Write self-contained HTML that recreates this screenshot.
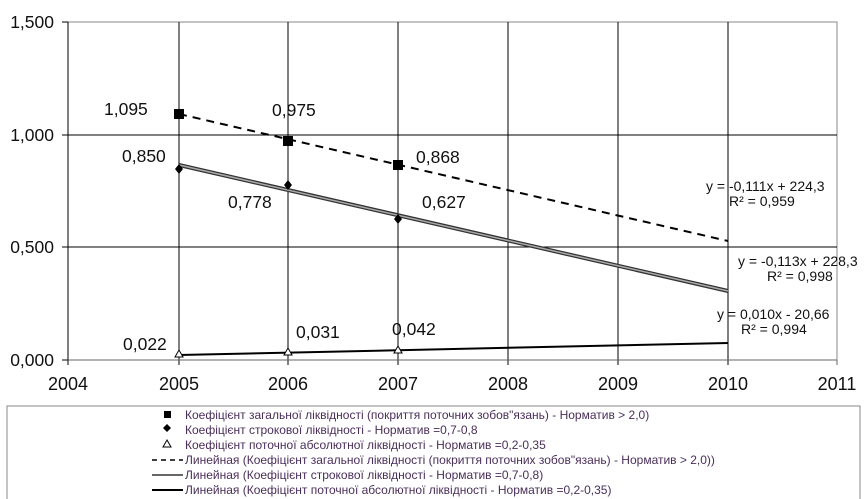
<!DOCTYPE html>
<html><head><meta charset="utf-8"><style>
body{margin:0;background:#fff;width:866px;height:499px;overflow:hidden;font-family:"Liberation Sans",sans-serif}
svg{position:absolute;left:0;top:0}
</style></head><body>
<svg width="866" height="499" viewBox="0 0 866 499" font-family="Liberation Sans, sans-serif">
<rect x="68" y="22" width="769" height="338" fill="#fff" stroke="#888" stroke-width="1"/>
<g stroke="#000" stroke-width="1">
<line x1="68" y1="135" x2="837" y2="135"/>
<line x1="68" y1="247" x2="837" y2="247"/>
<line x1="179" y1="22" x2="179" y2="365"/>
<line x1="288" y1="22" x2="288" y2="365"/>
<line x1="398" y1="22" x2="398" y2="365"/>
<line x1="508" y1="22" x2="508" y2="365"/>
<line x1="618" y1="22" x2="618" y2="365"/>
<line x1="728" y1="22" x2="728" y2="365"/>
<line x1="68" y1="22" x2="68" y2="365"/>
<line x1="62" y1="22" x2="68" y2="22"/><line x1="62" y1="135" x2="68" y2="135"/><line x1="62" y1="247" x2="68" y2="247"/><line x1="62" y1="360" x2="68" y2="360"/>
</g>
<line x1="68" y1="360" x2="837" y2="360" stroke="#666"/>
<line x1="837" y1="360" x2="837" y2="365" stroke="#666"/>
<g font-size="17.5" text-anchor="end" fill="#111">
<text x="54" y="28">1,500</text><text x="54" y="141">1,000</text><text x="54" y="253">0,500</text><text x="54" y="366">0,000</text>
</g>
<g font-size="18" text-anchor="middle" fill="#111">
<text x="68" y="390">2004</text><text x="179" y="390">2005</text><text x="288" y="390">2006</text><text x="398" y="390">2007</text><text x="508" y="390">2008</text><text x="618" y="390">2009</text><text x="728" y="390">2010</text><text x="837" y="390">2011</text>
</g>
<line x1="179" y1="114" x2="728" y2="241" stroke="#000" stroke-width="2" stroke-dasharray="8,6"/>
<line x1="179" y1="165" x2="728" y2="291" stroke="#333" stroke-width="4"/>
<line x1="179" y1="165" x2="728" y2="291" stroke="#aaa" stroke-width="1.5"/>
<line x1="179" y1="355" x2="728" y2="343" stroke="#000" stroke-width="2"/>
<g fill="#000">
<rect x="174" y="109" width="10" height="10"/><rect x="283" y="136" width="10" height="10"/><rect x="393" y="160" width="10" height="10"/>
<path d="M179 164l4 5-4 5-4-5z"/><path d="M288 180l4 5-4 5-4-5z"/><path d="M398 214l4 5-4 5-4-5z"/>
</g>
<g fill="#fff" stroke="#000"><path d="M179 350l4 7h-8z"/><path d="M288 348l4 7h-8z"/><path d="M398 346l4 7h-8z"/></g>
<g font-size="17.5" fill="#111">
<text x="104" y="115">1,095</text><text x="272" y="116">0,975</text><text x="416" y="163">0,868</text>
<text x="122" y="162">0,850</text><text x="228" y="208">0,778</text><text x="422" y="208">0,627</text>
<text x="123" y="350">0,022</text><text x="296" y="338">0,031</text><text x="392" y="335">0,042</text>
</g>
<g font-size="14" fill="#111">
<text x="706" y="191">y = -0,111x + 224,3</text><text x="729" y="206">R² = 0,959</text>
<text x="738" y="266">y = -0,113x + 228,3</text><text x="767" y="281">R² = 0,998</text>
<text x="717" y="319">y = 0,010x - 20,66</text><text x="741" y="334">R² = 0,994</text>
</g>
<rect x="7" y="406" width="853" height="100" fill="#fff" stroke="#888"/>
<rect x="164" y="411" width="7" height="7" fill="#000"/>
<path d="M167 424l4 4-4 4-4-4z" fill="#000"/>
<path d="M167 440l4 7h-8z" fill="#fff" stroke="#000"/>
<line x1="152" y1="460" x2="183" y2="460" stroke="#000" stroke-width="1.5" stroke-dasharray="5,4"/>
<line x1="152" y1="475" x2="183" y2="475" stroke="#333" stroke-width="1.5"/>
<line x1="152" y1="490" x2="183" y2="490" stroke="#000" stroke-width="2"/>
<g font-size="12" fill="#4a2e5a">
<text x="185" y="419">Коефіцієнт загальної ліквідності (покриття поточних зобов"язань) - Норматив &gt; 2,0)</text>
<text x="185" y="434">Коефіцієнт строкової ліквідності - Норматив =0,7-0,8</text>
<text x="185" y="449">Коефіцієнт поточної абсолютної ліквідності - Норматив =0,2-0,35</text>
<text x="185" y="464">Линейная  (Коефіцієнт загальної ліквідності (покриття поточних зобов"язань) - Норматив &gt; 2,0))</text>
<text x="185" y="479">Линейная  (Коефіцієнт строкової ліквідності - Норматив =0,7-0,8)</text>
<text x="185" y="494">Линейная  (Коефіцієнт поточної абсолютної ліквідності - Норматив =0,2-0,35)</text>
</g>
</svg>
</body></html>
